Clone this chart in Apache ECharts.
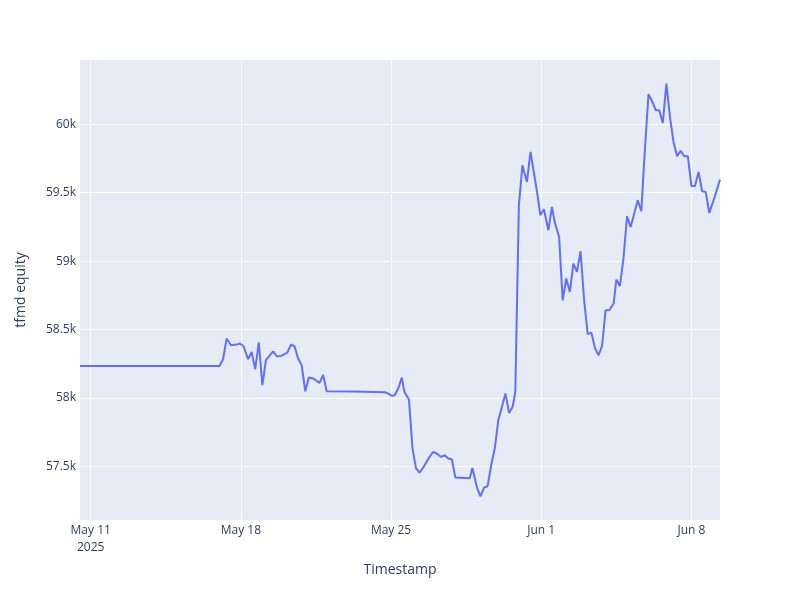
<!DOCTYPE html>
<html>
<head>
<meta charset="utf-8">
<script src="https://cdn.jsdelivr.net/npm/echarts@6/dist/echarts.min.js"></script>
<style>
    html, body { margin: 0; padding: 0; background: #fff; }
    #chart { width: 800px; height: 600px; }
</style>
</head>
<body>
<div id="chart"></div>
<script>
// series start (UTC) and hours elapsed for each sample
var startTime = '2025-05-10T12:00:00Z';
var hoursFromStart = [
    0, 156, 160, 164, 169, 175, 179, 183, 188, 192, 196, 200, 204, 208, 216, 220,
    225, 232, 236, 240, 244, 248, 252, 256, 261, 268, 272, 276, 306, 341, 345, 349,
    352, 356, 360, 363, 368, 372, 376, 380, 384, 391, 395, 399, 404, 408, 412, 416,
    420, 436, 439, 444, 448, 452, 456, 460, 464, 468, 476, 480, 484, 487, 491, 495,
    500, 504, 511, 515, 519, 524, 528, 531, 536, 540, 544, 548, 552, 556, 560, 564,
    568, 572, 576, 580, 584, 588, 592, 597, 600, 604, 608, 612, 616, 624, 628, 631,
    636, 641, 644, 648, 652, 656, 660, 664, 668, 672, 676, 680, 684, 688, 692, 696,
    700, 704, 710, 716
];
var equity = [
    58234, 58234, 58281, 58434, 58385, 58390, 58398, 58378, 58283, 58336, 58210, 58407, 58093, 58276, 58341, 58305,
    58307, 58332, 58390, 58378, 58288, 58239, 58049, 58149, 58142, 58110, 58168, 58049, 58047, 58042, 58032, 58015,
    58020, 58069, 58149, 58044, 57988, 57630, 57484, 57455, 57491, 57569, 57605, 57594, 57569, 57581, 57557, 57552,
    57418, 57413, 57488, 57349, 57281, 57345, 57355, 57508, 57630, 57837, 58032, 57890, 57934, 58044, 59409, 59701,
    59579, 59798, 59518, 59336, 59379, 59226, 59396, 59287, 59177, 58714, 58873, 58775, 58982, 58921, 59072, 58714,
    58466, 58478, 58368, 58312, 58378, 58641, 58641, 58690, 58865, 58819, 59019, 59328, 59250, 59445, 59365, 59713,
    60220, 60156, 60103, 60103, 60010, 60298, 60054, 59871, 59767, 59806, 59767, 59767, 59550, 59550, 59652, 59511,
    59506, 59352, 59469, 59596
];
var xTickDates = ['2025-05-11', '2025-05-18', '2025-05-25', '2025-06-01', '2025-06-08'];
var yTicks = [57500, 58000, 58500, 59000, 59500, 60000];
var yRange = [57108, 60470];

var months = ['Jan', 'Feb', 'Mar', 'Apr', 'May', 'Jun', 'Jul', 'Aug', 'Sep', 'Oct', 'Nov', 'Dec'];
var t0 = Date.parse(startTime);
var points = hoursFromStart.map(function (h, i) {
    return [t0 + h * 3600 * 1000, equity[i]];
});
var xTicks = xTickDates.map(function (d) { return Date.parse(d + 'T00:00:00Z'); });

var font = '"Open Sans", verdana, arial, sans-serif';
var textColor = '#2a3f5f';

var chart = echarts.init(document.getElementById('chart'), null, { renderer: 'canvas' });
chart.setOption({
    animation: false,
    backgroundColor: '#fff',
    grid: {
        left: 80, right: 80, top: 60, bottom: 80,
        show: true,
        backgroundColor: '#E5ECF6',
        borderWidth: 0
    },
    xAxis: {
        // timestamps in ms on a value axis so the weekly ticks can be placed exactly
        type: 'value',
        min: t0,
        max: points[points.length - 1][0],
        name: 'Timestamp',
        nameLocation: 'middle',
        nameGap: 43,
        nameTextStyle: { fontFamily: font, fontSize: 14, color: textColor },
        axisLine: { show: false },
        axisTick: { show: false, customValues: xTicks },
        axisLabel: {
            customValues: xTicks,
            fontFamily: font, fontSize: 12, color: textColor,
            lineHeight: 17,
            margin: 2,
            formatter: function (v) {
                var d = new Date(v);
                var s = months[d.getUTCMonth()] + ' ' + d.getUTCDate();
                return v === xTicks[0] ? s + '\n' + d.getUTCFullYear() : s;
            }
        },
        splitLine: { show: true, lineStyle: { color: '#fff', width: 1 } }
    },
    yAxis: {
        type: 'value',
        min: yRange[0],
        max: yRange[1],
        name: 'tfmd equity',
        nameLocation: 'middle',
        nameGap: 52,
        nameTextStyle: { fontFamily: font, fontSize: 14, color: textColor },
        axisLine: { show: false },
        axisTick: { show: false, customValues: yTicks },
        axisLabel: {
            customValues: yTicks,
            fontFamily: font, fontSize: 12, color: textColor,
            margin: 4,
            formatter: function (v) { return (v / 1000) + 'k'; }
        },
        splitLine: { show: true, lineStyle: { color: '#fff', width: 1 } }
    },
    series: [{
        type: 'line',
        data: points,
        showSymbol: false,
        lineStyle: { color: '#636EFA', width: 2 },
        itemStyle: { color: '#636EFA' }
    }]
});
</script>
</body>
</html>
